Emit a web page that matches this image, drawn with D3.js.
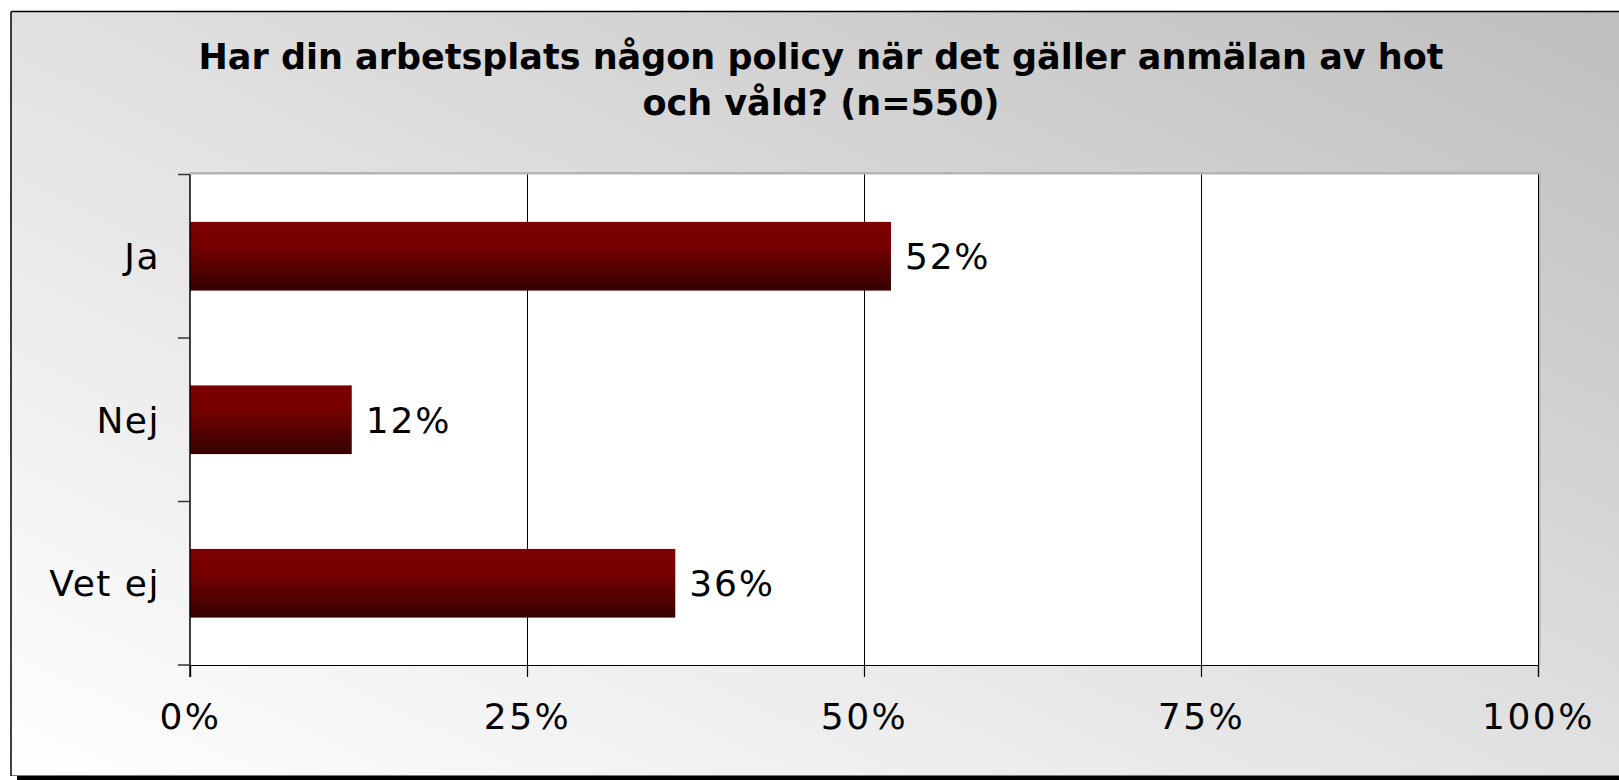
<!DOCTYPE html>
<html>
<head>
<meta charset="utf-8">
<script src="https://cdn.jsdelivr.net/npm/d3@7"></script>
<style>
  html, body { margin: 0; padding: 0; background: #fff; }
  svg { display: block; }
</style>
</head>
<body>
<svg id="chart" width="1619" height="780"></svg>
<script>
const titleLines = ["Har din arbetsplats någon policy när det gäller anmälan av hot", "och våld? (n=550)"];
const categories = ["Ja", "Nej", "Vet ej"];
const values = [0.52, 0.12, 0.36];
const valueLabels = ["52%", "12%", "36%"];
const xTicks = [0, 0.25, 0.5, 0.75, 1];
const xTickLabels = ["0%", "25%", "50%", "75%", "100%"];

(function () {
const W = 1619, H = 780;
const FONT = "DejaVu Sans, Verdana, sans-serif";
const svg = d3.select("#chart");
const defs = svg.append("defs");

const bg = defs.append("linearGradient").attr("id", "bg")
  .attr("x1", "0%").attr("y1", "100%").attr("x2", "100%").attr("y2", "0%");
bg.append("stop").attr("offset", "0%").attr("stop-color", "#ffffff");
bg.append("stop").attr("offset", "45%").attr("stop-color", "#e4e4e4");
bg.append("stop").attr("offset", "100%").attr("stop-color", "#bebebe");

const barG = defs.append("linearGradient").attr("id", "barG")
  .attr("x1", "0").attr("y1", "0").attr("x2", "0").attr("y2", "1");
barG.append("stop").attr("offset", "0%").attr("stop-color", "#7d0000");
barG.append("stop").attr("offset", "35%").attr("stop-color", "#760000");
barG.append("stop").attr("offset", "100%").attr("stop-color", "#360000");

// background and frame
svg.append("rect").attr("x", 11).attr("y", 11.5).attr("width", W - 11).attr("height", 764)
  .attr("fill", "url(#bg)");
svg.append("rect").attr("x", 17).attr("y", 776).attr("width", W - 17).attr("height", 4).attr("fill", "#000");
svg.append("line").attr("x1", 11).attr("x2", W).attr("y1", 775.5).attr("y2", 775.5).attr("stroke", "#777").attr("stroke-width", 1);
svg.append("line").attr("x1", 11).attr("x2", W).attr("y1", 11.5).attr("y2", 11.5).attr("stroke", "#000").attr("stroke-width", 1.5);
svg.append("line").attr("x1", 11).attr("x2", 11).attr("y1", 11.5).attr("y2", 776).attr("stroke", "#000").attr("stroke-width", 1.5);

// title
const title = svg.append("text").attr("text-anchor", "middle")
  .attr("font-family", FONT).attr("font-weight", "bold")
  .attr("font-size", 35).attr("fill", "#000");
titleLines.forEach((t, i) => {
  title.append("tspan").attr("x", 821).attr("y", 56 + i * 46).attr("dy", "0.36em").text(t);
});

// plot area
const pLeft = 190, pRight = 1538, pTop = 174.5, pBottom = 665;
const x = d3.scaleLinear().domain([0, 1]).range([pLeft, pRight]);
const y = d3.scaleBand().domain(categories).range([pTop, pBottom]).paddingInner(0.58).paddingOuter(0.29);

svg.append("rect").attr("x", pLeft).attr("y", pTop - 2.5).attr("width", pRight - pLeft + 2.5).attr("height", pBottom - pTop + 2.5)
  .attr("fill", "#b4b4b4");
svg.append("rect").attr("x", pLeft).attr("y", pTop).attr("width", pRight - pLeft).attr("height", pBottom - pTop)
  .attr("fill", "#ffffff");

// gridlines
svg.append("g").selectAll("line").data(xTicks.slice(1)).join("line")
  .attr("x1", d => Math.round(x(d)) + 0.5).attr("x2", d => Math.round(x(d)) + 0.5)
  .attr("y1", pTop).attr("y2", pBottom)
  .attr("stroke", "#000").attr("stroke-width", 1);

// bars
svg.append("g").selectAll("rect").data(categories).join("rect")
  .attr("x", x(0)).attr("y", d => y(d))
  .attr("width", (d, i) => x(values[i]) - x(0)).attr("height", y.bandwidth())
  .attr("fill", "url(#barG)");

// value labels
svg.append("g").selectAll("text").data(categories).join("text")
  .attr("x", (d, i) => x(values[i]) + 14).attr("y", d => y(d) + y.bandwidth() / 2).attr("dy", "0.36em")
  .attr("font-family", FONT).attr("font-size", 36).attr("letter-spacing", 1.8).attr("fill", "#000")
  .text((d, i) => valueLabels[i]);

// x axis
const xAxis = d3.axisBottom(x).tickValues(xTicks).tickSize(12).tickPadding(26)
  .tickFormat((d, i) => xTickLabels[i]);
const gx = svg.append("g").attr("transform", `translate(0,${pBottom})`).call(xAxis);
gx.select(".domain").attr("stroke", "#000").attr("stroke-width", 1.2);
gx.selectAll(".tick line").attr("stroke", "#000").attr("stroke-width", 1.2);
gx.selectAll(".tick text").attr("font-family", FONT).attr("font-size", 36).attr("letter-spacing", 2.5).attr("fill", "#000");

// y axis
const yBounds = [pTop, ...categories.map(c => y(c) + y.bandwidth() / 2 + y.step() / 2)];
const ga = svg.append("g");
ga.append("line").attr("x1", pLeft).attr("x2", pLeft).attr("y1", pTop).attr("y2", pBottom + 12)
  .attr("stroke", "#000").attr("stroke-width", 1.5);
ga.selectAll("line.t").data(yBounds).join("line").attr("class", "t")
  .attr("x1", pLeft - 12).attr("x2", pLeft).attr("y1", d => d).attr("y2", d => d)
  .attr("stroke", "#333").attr("stroke-width", 1.5);
svg.append("g").selectAll("text").data(categories).join("text")
  .attr("x", 160).attr("y", d => y(d) + y.bandwidth() / 2).attr("dy", "0.36em")
  .attr("text-anchor", "end")
  .attr("font-family", FONT).attr("font-size", 36).attr("letter-spacing", 1.5).attr("fill", "#000")
  .text(d => d);
})();
</script>
</body>
</html>
